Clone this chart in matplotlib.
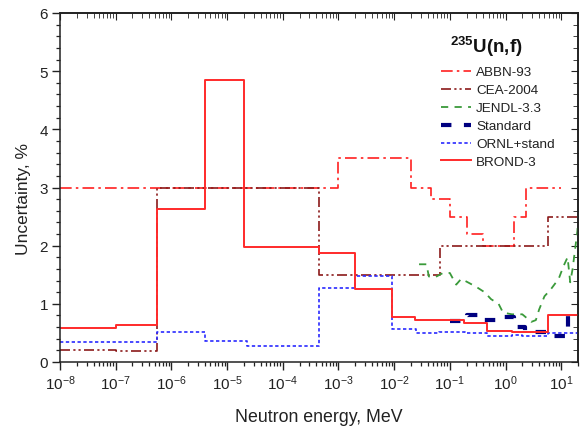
import numpy as np
import matplotlib
matplotlib.use("Agg")
import matplotlib.pyplot as plt
from matplotlib.ticker import FixedLocator, MultipleLocator, NullFormatter, LogFormatterSciNotation

plt.rcParams['font.family'] = ['Liberation Sans', 'DejaVu Sans']
plt.rcParams['mathtext.fontset'] = 'custom'
plt.rcParams['mathtext.rm'] = 'Liberation Sans'
plt.rcParams['mathtext.it'] = 'Liberation Sans:italic'
plt.rcParams['mathtext.bf'] = 'Liberation Sans:bold'

# ---- data (energies in MeV, uncertainties in %) ----
abbn_edges = [1e-8, 1e-3, 0.02, 0.045, 0.1, 0.2, 0.4, 1.4, 2.3, 10]
abbn_vals = [3.0, 3.5, 3.0, 2.8, 2.5, 2.2, 2.0, 2.5, 3.0]

cea_edges = [1e-8, 1e-7, 5.5e-7, 4.4e-4, 0.066, 5.8, 20]
cea_vals = [0.21, 0.19, 3.0, 1.5, 2.0, 2.5]

jendl_e = [0.028, 0.038, 0.042, 0.055, 0.075, 0.10, 0.13, 0.16, 0.22, 0.30,
           0.42, 0.55, 0.75, 0.9, 1.3, 2.0, 2.9, 3.5, 4.0, 5.0, 6.5, 9.0,
           11.0, 13.0, 14.5, 16.0, 19.5, 20.0]
jendl_v = [1.68, 1.68, 1.47, 1.46, 1.53, 1.53, 1.33, 1.43, 1.36, 1.29,
           1.20, 1.08, 1.00, 0.85, 0.82, 0.82, 0.69, 0.72, 0.90, 1.13, 1.25, 1.43,
           1.65, 1.80, 1.37, 1.60, 2.25, 2.40]

std_edges = [0.1, 0.2, 0.4, 0.93, 1.4, 2.2, 6.0, 13.5, 20]
std_vals = [0.71, 0.80, 0.72, 0.77, 0.60, 0.52, 0.45, 0.79]

ornl_edges = [1e-8, 5.5e-7, 4e-6, 2.26e-5, 4.4e-4, 2e-3, 9.3e-3, 0.0244, 0.065,
              0.19, 0.47, 1.3, 2.0, 5.8, 20]
ornl_vals = [0.35, 0.51, 0.355, 0.28, 1.28, 1.47, 0.567, 0.49, 0.52, 0.50,
             0.44, 0.47, 0.44, 0.49]

brond_edges = [1e-8, 1e-7, 5.5e-7, 4e-6, 2e-5, 4.4e-4, 2e-3, 9e-3, 0.024,
               0.18, 0.47, 1.3, 5.8, 20]
brond_vals = [0.59, 0.63, 2.63, 4.85, 1.98, 1.88, 1.26, 0.77, 0.72, 0.67,
              0.53, 0.51, 0.80]

labels = ['ABBN-93', 'CEA-2004', 'JENDL-3.3', 'Standard', 'ORNL+stand', 'BROND-3']
x_decades = 10.0 ** np.arange(-8, 2)

fig = plt.figure(figsize=(5.82, 4.27), dpi=100)
ax = fig.add_axes([60 / 582, 1 - 363 / 427, 518 / 582, 349 / 427])


def stepplot(edges, vals, **kw):
    return ax.step(edges, list(vals) + [vals[-1]], where='post', **kw)[0]


h_abbn = stepplot(abbn_edges, abbn_vals, color='#ff2020', lw=1.2,
                  linestyle=(0, (7, 2.5, 1.5, 2.5)))
h_cea = stepplot(cea_edges, cea_vals, color='#8b1a1a', lw=1.2,
                 linestyle=(0, (6, 2, 1.3, 1.8, 1.3, 2)))
h_jendl, = ax.plot(jendl_e, jendl_v, color='#3a9a3a', lw=1.3,
                   linestyle=(0, (4, 3.5)))
h_std = stepplot(std_edges, std_vals, color='#000080', lw=3.0,
                 linestyle=(0, (2.5, 3)))
h_ornl = stepplot(ornl_edges, ornl_vals, color='#2a2aff', lw=1.2,
                  linestyle=(0, (2, 1.5)))
h_brond = stepplot(brond_edges, brond_vals, color='#ff2a2a', lw=1.4,
                   linestyle='-')

ax.set_xscale('log')
ax.set_xlim(1e-8, 20)
ax.set_ylim(0, 6)

minor_x = [m * d for d in 10.0 ** np.arange(-8, 2) for m in range(2, 10) if m * d <= 20]
ax.xaxis.set_major_locator(FixedLocator(x_decades))
ax.xaxis.set_major_formatter(LogFormatterSciNotation())
ax.xaxis.set_minor_locator(FixedLocator(minor_x))
ax.xaxis.set_minor_formatter(NullFormatter())
ax.yaxis.set_major_locator(MultipleLocator(1))
ax.yaxis.set_minor_locator(MultipleLocator(0.2))

ax.tick_params(which='major', direction='out', length=6, width=1.0,
               labelsize=11, pad=2.5, colors='#222222', labelcolor='#222222')
ax.tick_params(which='minor', direction='out', length=3, width=0.9,
               colors='#222222')

for s in ax.spines.values():
    s.set_linewidth(1.1)
    s.set_color('#222222')

# inward ticks on top and right
axt = ax.secondary_xaxis('top')
axt.xaxis.set_major_locator(FixedLocator(x_decades))
axt.xaxis.set_minor_locator(FixedLocator(minor_x))
axt.tick_params(which='major', direction='in', length=5, labeltop=False, colors='#222222')
axt.tick_params(which='minor', direction='in', length=3.5, labeltop=False, colors='#222222')
axt.xaxis.set_minor_formatter(NullFormatter())
axt.spines['top'].set_linewidth(1.1)

axr = ax.secondary_yaxis('right')
axr.yaxis.set_major_locator(MultipleLocator(1))
axr.yaxis.set_minor_locator(MultipleLocator(0.2))
axr.tick_params(which='major', direction='in', length=5, labelright=False, colors='#222222')
axr.tick_params(which='minor', direction='in', length=3.5, labelright=False, colors='#222222')
axr.spines['right'].set_linewidth(1.1)

ax.set_xlabel('Neutron energy, MeV', fontsize=12.8, color='#222222', labelpad=11)
ax.set_ylabel('Uncertainty, %', fontsize=12.5, color='#222222')
ax.yaxis.set_label_coords(-0.056, 0.47)

handles = [h_abbn, h_cea, h_jendl, h_std, h_ornl, h_brond]
leg = ax.legend(handles, labels, loc='upper left',
                bbox_to_anchor=(441 / 582, 1 - 67 / 427),
                bbox_transform=fig.transFigure, frameon=False,
                fontsize=9.7, handlelength=2.2, handletextpad=0.4,
                labelspacing=0.41, borderpad=0, borderaxespad=0)
for t in leg.get_texts():
    t.set_color('#222222')

fig.text(486 / 582, 1 - 47 / 427, r'$^{\mathbf{235}}$U(n,f)', fontsize=13.5,
         fontweight='bold', ha='center', va='center', color='#111111')

fig.savefig('out.png', dpi=100)
